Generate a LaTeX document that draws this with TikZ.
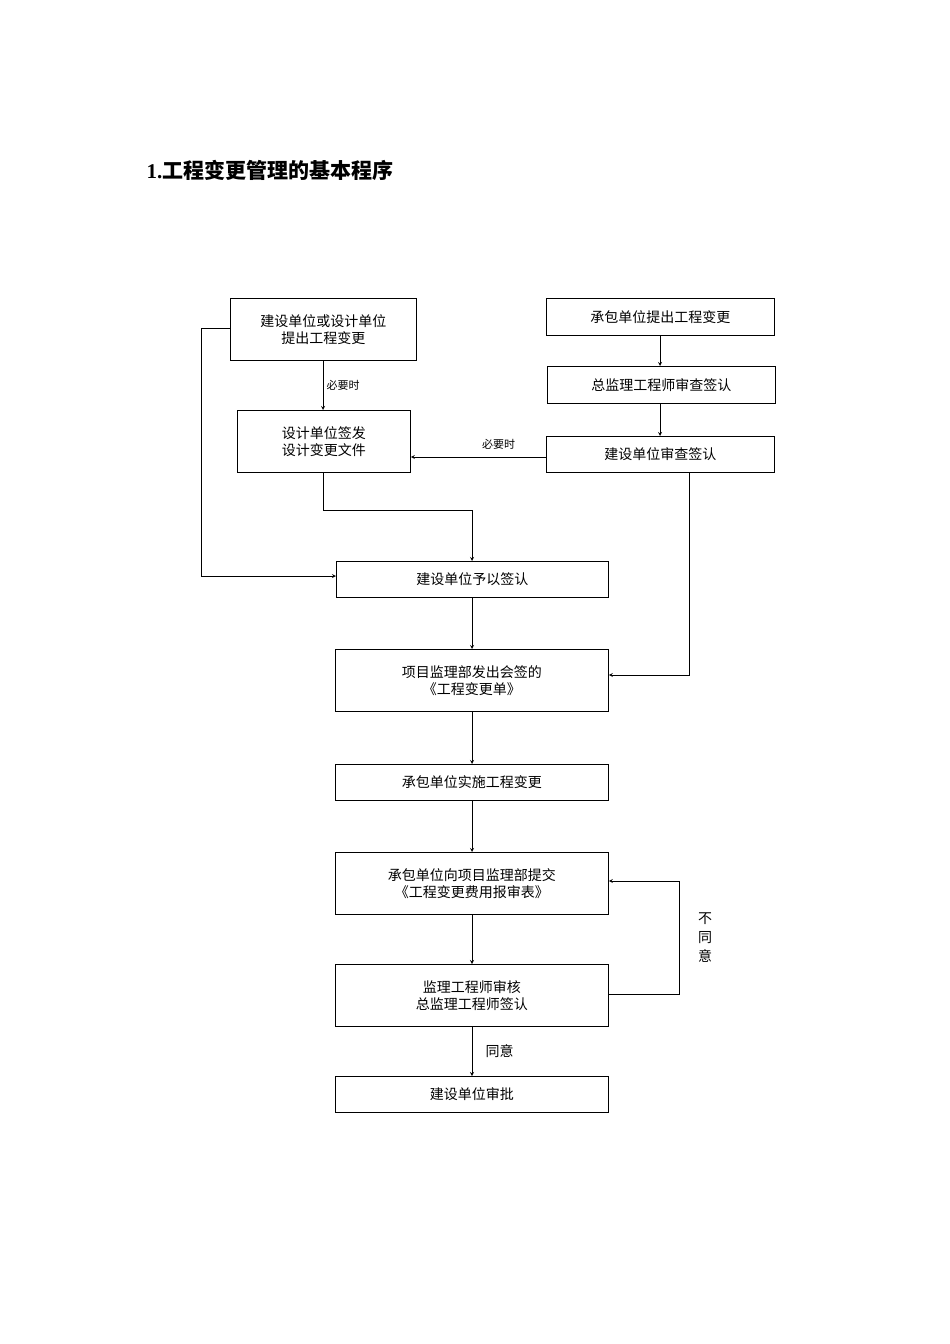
\documentclass[tikz,border=0pt]{standalone}
\usepackage{fontspec}
\setmainfont{Liberation Serif}
\newfontfamily\cjk{Noto Sans CJK SC}
\usetikzlibrary{positioning}
\begin{document}
\begin{tikzpicture}[x=1pt,y=-1pt,
	box/.style={draw, line width=0.8pt, anchor=north west, align=center, font=\cjk\fontsize{14}{17}\selectfont, inner sep=2pt},
	arr/.style={line width=0.8pt,-stealth},
	lbl/.style={font=\cjk\fontsize{11}{13}\selectfont}]
		\useasboundingbox (0,0) rectangle (950,1344);
		
		% Title
		\node[anchor=west, font=\bfseries\fontsize{21}{25}\selectfont] (title) at (143,170) {1.{\cjk 工程变更管理的基本程序}};
		
		% Boxes
		\node[box, minimum width=186, minimum height=62] (req1) at (230,298) {建设单位或设计单位\\提出工程变更};
		\node[box, minimum width=228, minimum height=37] (req2) at (546,298) {承包单位提出工程变更};
		\node[box, minimum width=228, minimum height=37] (chief) at (547,366) {总监理工程师审查签认};
		\node[box, minimum width=173, minimum height=62] (design) at (237,410) {设计单位签发\\设计变更文件};
		\node[box, minimum width=228, minimum height=36] (owner1) at (546,436) {建设单位审查签认};
		\node[box, minimum width=272, minimum height=36] (owner2) at (336,561) {建设单位予以签认};
		\node[box, minimum width=273, minimum height=62] (order) at (335,649) {项目监理部发出会签的\\《工程变更单》};
		\node[box, minimum width=273, minimum height=36] (impl) at (335,764) {承包单位实施工程变更};
		\node[box, minimum width=273, minimum height=62] (cost) at (335,852) {承包单位向项目监理部提交\\《工程变更费用报审表》};
		\node[box, minimum width=273, minimum height=62] (check) at (335,964) {监理工程师审核\\总监理工程师签认};
		\node[box, minimum width=273, minimum height=36] (appr) at (335,1076) {建设单位审批};
		
		% Connectors
		\draw[arr] (req1.south -| 323,0) -- (design.north -| 323,0) node[midway,right,lbl] {必要时};
		\draw[arr] (req2.south -| 660,0) -- (chief.north -| 660,0);
		\draw[arr] (chief.south -| 660,0) -- (owner1.north -| 660,0);
		\draw[arr] (owner1.west |- 0,457) -- (design.east |- 0,457) node[pos=0.35,above=4pt,lbl] {必要时};
		\draw[arr] (design.south -| 323,0) -- (323,510) -- (472,510) -- (owner2.north -| 472,0);
		\draw[arr] (req1.west |- 0,328) -- (201,328) -- (201,576) -- (owner2.west |- 0,576);
		\draw[arr] (owner1.south -| 689,0) -- (689,675) -- (order.east |- 0,675);
		\draw[arr] (owner2.south -| 472,0) -- (order.north -| 472,0);
		\draw[arr] (order.south -| 472,0) -- (impl.north -| 472,0);
		\draw[arr] (impl.south -| 472,0) -- (cost.north -| 472,0);
		\draw[arr] (cost.south -| 472,0) -- (check.north -| 472,0);
		\draw[arr] (check.south -| 472,0) -- (appr.north -| 472,0) node[midway,right=10pt,font=\cjk\fontsize{14}{17}\selectfont] {同意};
		\draw[arr] (check.east |- 0,994) -- (679,994) -- (679,881) -- (cost.east |- 0,881);
		\node[font=\cjk\fontsize{14}{19}\selectfont, align=center] (deny) at (705,938) {不\\同\\意};
		
	\end{tikzpicture}
\end{document}
